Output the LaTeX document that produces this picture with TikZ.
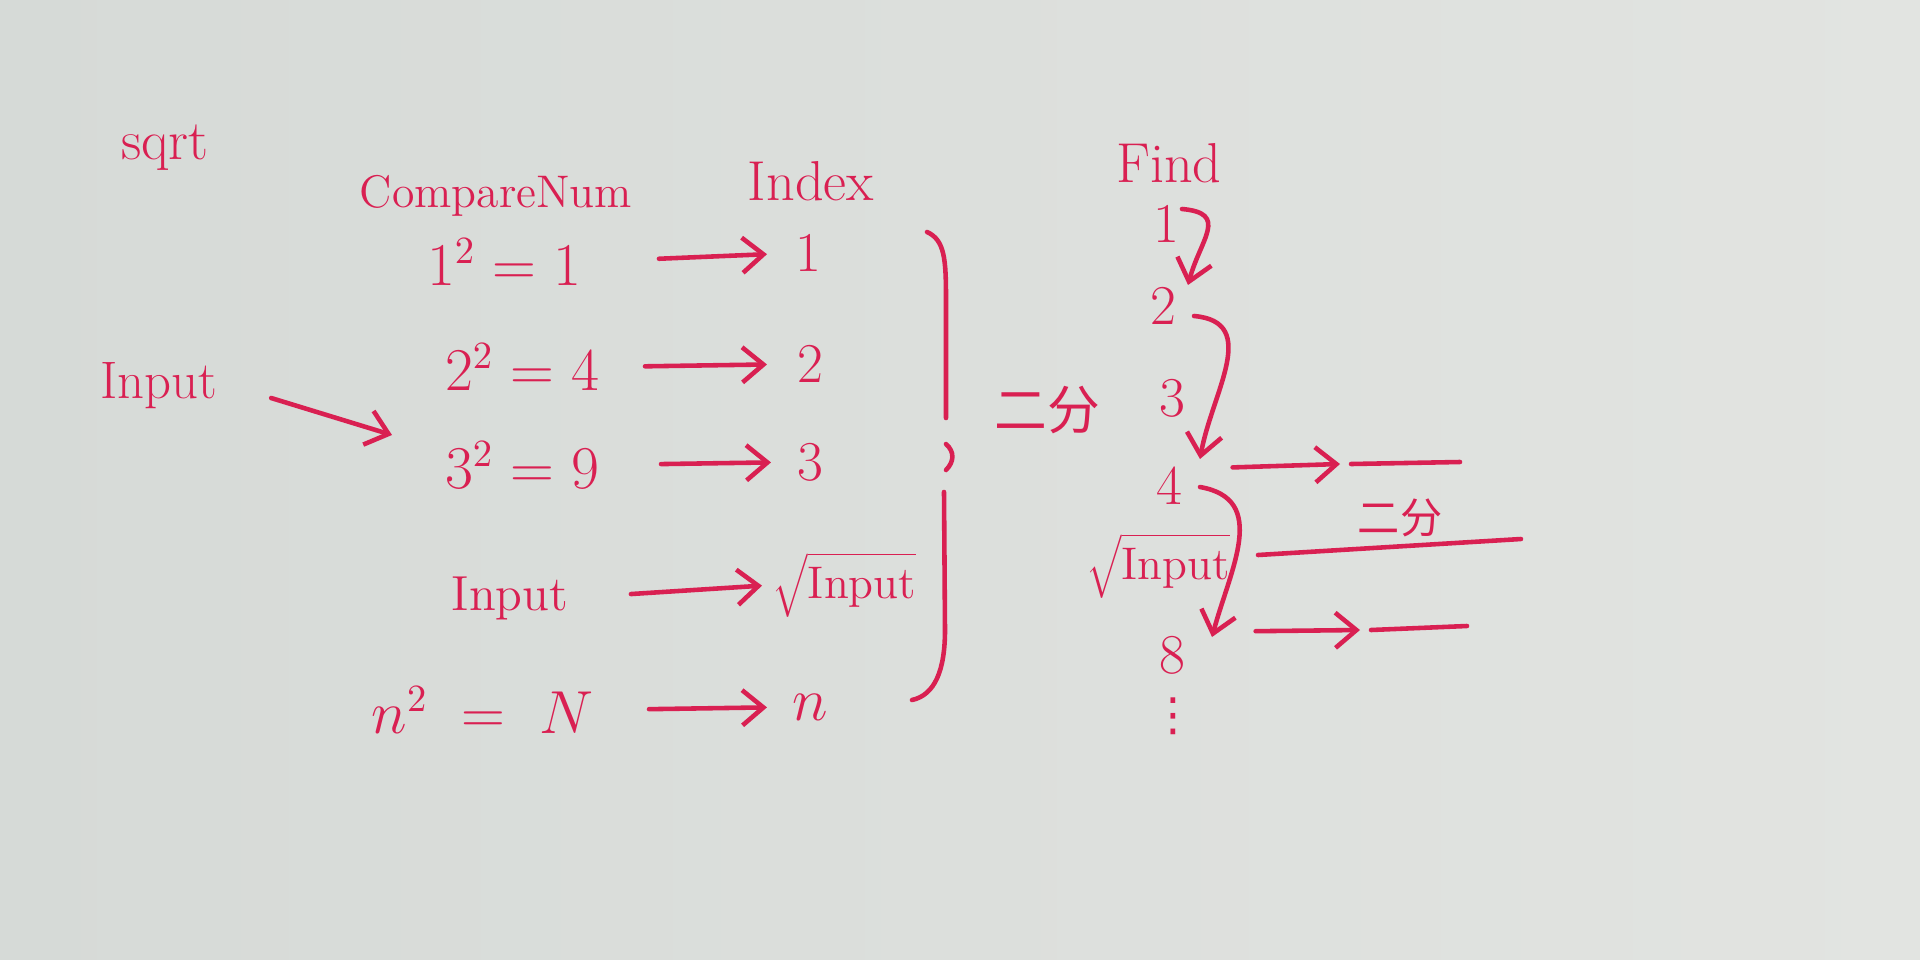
\documentclass[tikz,border=0pt]{standalone}
\usepackage{fontspec}
\newfontfamily\cjk{Noto Sans CJK SC}
\newfontfamily\djv{DejaVu Sans}
\usetikzlibrary{arrows.meta}
\definecolor{paperL}{HTML}{D6DAD7}
\definecolor{paperR}{HTML}{E2E4E1}
\definecolor{ink}{HTML}{D92052}
\begin{document}
\begin{tikzpicture}[x=0.01cm,y=-0.01cm,
  lbl/.style={text=ink,inner sep=0pt,font=\fontsize{16}{18}\selectfont},
  num/.style={text=ink,inner sep=0pt,font=\fontsize{16}{18}\selectfont},
  zh/.style={text=ink,inner sep=0pt,font=\cjk\fontsize{12}{14}\selectfont},
  arr/.style={draw=ink,line width=1.3pt,line cap=round,-{Straight Barb[length=6pt,width=10pt,line width=1.3pt]}},
  ln/.style={draw=ink,line width=1.3pt,line cap=round}]
\shade[left color=paperL,right color=paperR] (0,0) rectangle (1920,960);
\useasboundingbox (0,0) rectangle (1920,960);

% headers
\node[lbl] (sqrt) at (165,148) {sqrt};
\node[lbl,font=\fontsize{13}{15}\selectfont] (cmp) at (496,196) {CompareNum};
\node[lbl] (idx) at (811,181) {Index};
\node[lbl] (find) at (1169,163) {Find};

% input
\node[lbl,font=\fontsize{15}{17}\selectfont] (inp) at (159,386) {Input};
\coordinate (inpend) at (392,435);
\draw[arr] ([xshift=0.53cm,yshift=-0.12cm]inp.east) -- (inpend);

% compare column
\node[num,anchor=east] (c1) at (582,262) {$1^{2} = 1$};
\node[num,anchor=east] (c2) at (600,367) {$2^{2} = 4$};
\node[num,anchor=east] (c3) at (600,465) {$3^{2} = 9$};
\node[lbl,anchor=east,font=\fontsize{14}{16}\selectfont] (c4) at (569,598) {Input};
\node[num,anchor=east] (c5) at (594,710) {$n^{2} \;=\; N$};

% index column
\node[num,anchor=west] (i1) at (795,253) {1};
\node[num,anchor=west] (i2) at (797,364) {2};
\node[num,anchor=west] (i3) at (797,462) {3};
\node[lbl,anchor=west,font=\fontsize{13}{15}\selectfont] (i4) at (772,585) {$\sqrt{\mathrm{Input}}$};
\node[num,anchor=west] (i5) at (792,707) {$n$};

\draw[arr,shorten <=0.77cm,shorten >=0.28cm] (c1.east) -- (i1.west);
\draw[arr,shorten <=0.45cm,shorten >=0.30cm] (c2.east) -- (i2.west);
\draw[arr,shorten <=0.61cm,shorten >=0.26cm] (c3.east) -- (i3.west);
\draw[arr,shorten <=0.62cm,shorten >=0.10cm] (c4.east) -- (i4.west);
\draw[arr,shorten <=0.55cm,shorten >=0.25cm] (c5.east) -- (i5.west);

% big bracket
\draw[ln] (927,232) .. controls (945,240) and (946,260) .. (946,300) -- (946,418);
\draw[ln] (946,444) .. controls (955,452) and (954,462) .. (946,470);
\draw[ln] (944,492) -- (945,630) .. controls (945,670) and (935,695) .. (912,700);

% binary search label
\node[zh,font=\cjk\fontsize{15}{17}\selectfont] (bs) at (1047,410) {二分};

% find column
\node[num] (f1) at (1166,224) {1};
\node[num] (f2) at (1163,306) {2};
\node[num] (f3) at (1172,398) {3};
\node[num] (f4) at (1169,486) {4};
\node[lbl,font=\fontsize{13}{15}\selectfont] (f5) at (1158,566) {$\sqrt{\mathrm{Input}}$};
\node[num] (f6) at (1172,655) {8};
\node[text=ink,inner sep=0pt,font=\djv\fontsize{13}{14}\selectfont] (f7) at (1173,716) {⋮};

\draw[arr] ([xshift=0.16cm,yshift=0.15cm]f1.center) to[out=-5,in=75,looseness=1.6] ([xshift=0.25cm,yshift=0.21cm]f2.center);
\draw[arr] ([xshift=0.31cm,yshift=-0.10cm]f2.center) to[out=-5,in=80,looseness=1.2] ([xshift=0.31cm,yshift=0.27cm]f4.center);
\draw[arr] ([xshift=0.31cm,yshift=-0.01cm]f4.center) to[out=-10,in=75,looseness=1.2] ([xshift=0.40cm,yshift=0.18cm]f6.center);

% right side
\coordinate (h1a) at (1340,464);
\coordinate (h1b) at (1460,462);
\coordinate (h2a) at (1258,555);
\coordinate (h2b) at (1521,539);
\coordinate (h3a) at (1360,630);
\coordinate (h3b) at (1467,626);
\draw[arr,shorten <=0.5cm] ([yshift=0.17cm]f4.east) -- (h1a);
\draw[ln] ([xshift=0.11cm]h1a) -- (h1b);
\draw[ln] (h2a) -- (h2b);
\node[zh] (bs2) at (1400,518) {二分};
\draw[arr,shorten <=0.7cm] ([yshift=0.23cm]f6.east) -- (h3a);
\draw[ln] ([xshift=0.11cm]h3a) -- (h3b);
\end{tikzpicture}
\end{document}
